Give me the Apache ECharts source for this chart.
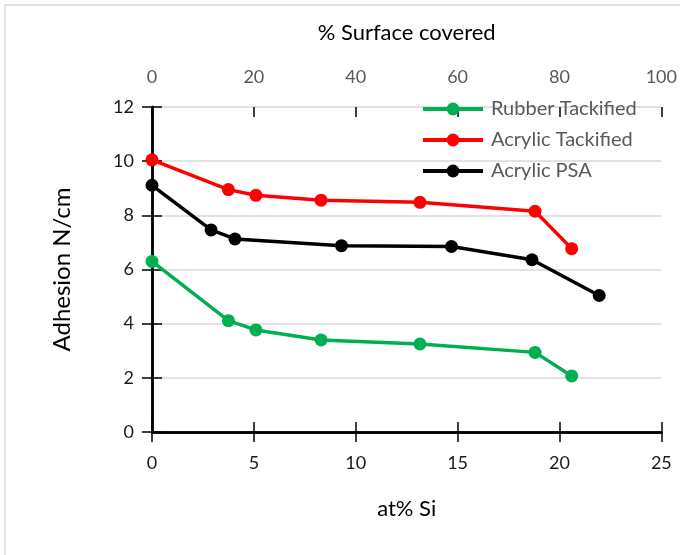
<!DOCTYPE html>
<html><head><meta charset="utf-8">
<script src="https://cdn.jsdelivr.net/npm/echarts@6/dist/echarts.min.js"></script>
<style>html,body{margin:0;padding:0;background:#fff}#c{width:680px;height:555px}</style>
</head><body><div id="c"></div>
<script>
const seriesNames = ['Rubber Tackified', 'Acrylic Tackified', 'Acrylic PSA'];
const seriesColors = ['#00b050', '#ff0000', '#000000'];
const tackifiedSi = [0, 3.75, 5.1, 8.3, 13.15, 18.8, 20.6];
const rubberAdhesion = [6.3, 4.11, 3.77, 3.4, 3.25, 2.94, 2.07];
const acrylicTackAdhesion = [10.05, 8.95, 8.74, 8.56, 8.48, 8.15, 6.77];
const psaSi = [0, 2.9, 4.07, 9.3, 14.7, 18.65, 21.95];
const psaAdhesion = [9.11, 7.46, 7.13, 6.88, 6.85, 6.36, 5.04];
const xTitle = 'at% Si';
const x2Title = '% Surface covered';
const yTitle = 'Adhesion N/cm';

const zip = (xs, ys) => xs.map((x, i) => [x, ys[i]]);
const seriesData = [zip(tackifiedSi, rubberAdhesion), zip(tackifiedSi, acrylicTackAdhesion), zip(psaSi, psaAdhesion)];

const FONT = 'Lato';
const lineBlack = { show: true, lineStyle: { color: '#000', width: 2.5 } };
const tickOut = { show: true, length: 10, lineStyle: { color: '#000', width: 1.5 } };
const tickIn = { show: true, inside: true, length: 10, lineStyle: { color: '#000', width: 1.5 } };
const lbl = { color: '#1a1a1a', fontFamily: FONT, fontSize: 18 };
const gridPos = { left: 152, right: 18, top: 107, bottom: 123 };

const chart = echarts.init(document.getElementById('c'));
chart.setOption({
  animation: false,
  backgroundColor: '#fff',
  graphic: [{ type: 'rect', shape: { x: 5, y: 5, width: 700, height: 600 }, style: { fill: 'none', stroke: '#d9d9d9', lineWidth: 1.5 }, silent: true, z: -10 }],
  grid: [Object.assign({}, gridPos), Object.assign({}, gridPos)],
  legend: {
    data: seriesNames, orient: 'vertical', left: 421, top: 99, padding: 0, itemWidth: 60, itemHeight: 16, itemGap: 11,
    lineStyle: { width: 4 },
    textStyle: { color: '#595959', fontFamily: FONT, fontSize: 20, lineHeight: 16, padding: [0, 0, 0, 3] }
  },
  xAxis: [
    { type: 'value', gridIndex: 0, position: 'bottom', min: 0, max: 25, interval: 5, axisLine: lineBlack, axisTick: tickOut,
      axisLabel: Object.assign({ margin: 22 }, lbl), splitLine: { show: false },
      name: xTitle, nameLocation: 'middle', nameGap: 66, nameTextStyle: { color: '#000', fontFamily: FONT, fontSize: 22 } },
    { type: 'value', gridIndex: 0, position: 'top', min: 0, max: 100, interval: 20, axisLine: lineBlack, axisTick: tickOut,
      axisLabel: Object.assign({}, lbl, { margin: 21, color: '#595959' }), splitLine: { show: false },
      name: x2Title, nameLocation: 'middle', nameGap: 63, nameTextStyle: { color: '#000', fontFamily: FONT, fontSize: 22 } },
    { type: 'value', gridIndex: 1, position: 'bottom', min: 0, max: 25, interval: 5, axisLine: { show: false }, axisTick: tickIn, axisLabel: { show: false }, splitLine: { show: false } },
    { type: 'value', gridIndex: 1, position: 'top', min: 0, max: 100, interval: 20, axisLine: { show: false }, axisTick: tickIn, axisLabel: { show: false }, splitLine: { show: false } }
  ],
  yAxis: [
    { type: 'value', gridIndex: 0, position: 'left', min: 0, max: 12, interval: 2, axisLine: lineBlack, axisTick: tickOut,
      axisLabel: Object.assign({ margin: 18 }, lbl), splitLine: { show: true, lineStyle: { color: '#d9d9d9', width: 1.5 } },
      name: yTitle, nameLocation: 'middle', nameGap: 78, nameTextStyle: { color: '#000', fontFamily: FONT, fontSize: 24 } },
    { type: 'value', gridIndex: 0, position: 'right', min: 0, max: 12, interval: 2, axisLine: lineBlack, axisTick: { show: false }, axisLabel: { show: false }, splitLine: { show: false } },
    { type: 'value', gridIndex: 1, position: 'left', min: 0, max: 12, interval: 2, axisLine: { show: false }, axisTick: tickIn, axisLabel: { show: false }, splitLine: { show: false } }
  ],
  series: seriesNames.map((n, i) => ({
    name: n, type: 'line', xAxisIndex: 0, yAxisIndex: 0, data: seriesData[i],
    symbol: 'circle', symbolSize: 13, color: seriesColors[i],
    lineStyle: { color: seriesColors[i], width: 3.5 }, itemStyle: { color: seriesColors[i] }, z: 3 + i
  }))
});
</script></body></html>
